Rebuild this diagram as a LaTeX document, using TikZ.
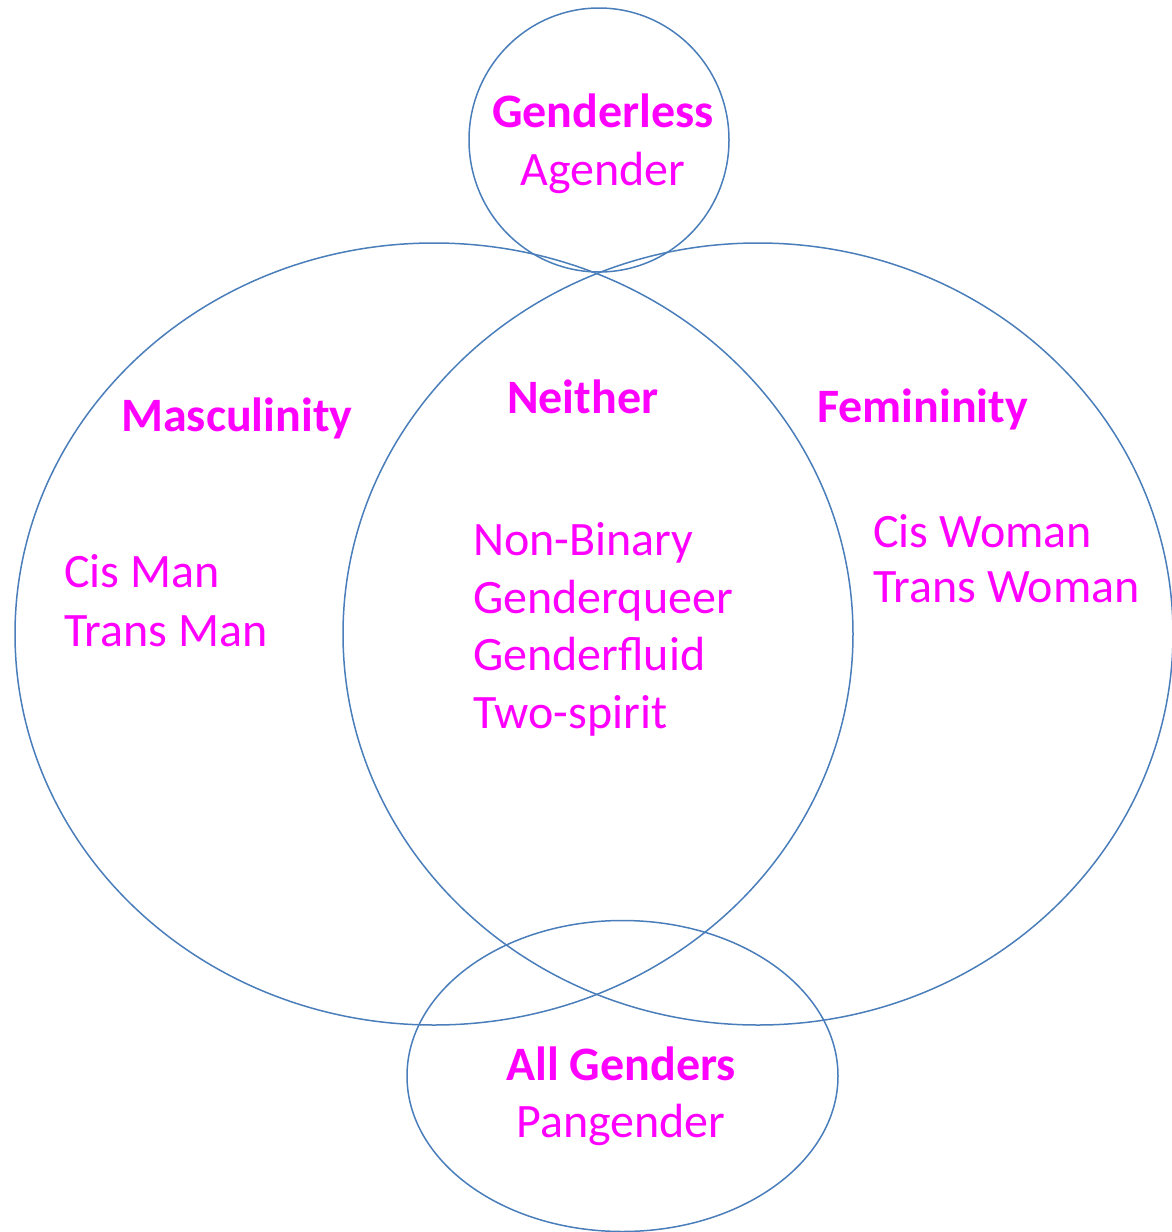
\documentclass[tikz,border=0pt]{standalone}
\usepackage{fontspec}
\setmainfont{Carlito}
\definecolor{ringblue}{HTML}{4A7EBB}
\definecolor{labelmag}{HTML}{FF00FF}
\begin{document}
\begin{tikzpicture}[x=1pt,y=-1pt,
  ring/.style={draw=ringblue,line width=1.5pt},
  lbl/.style={inner sep=0pt,text=labelmag,font=\fontsize{48}{57}\selectfont},
  head/.style={lbl,font=\fontsize{48}{57}\selectfont\bfseries},
  itemL/.style={lbl,anchor=base west},
  itemC/.style={lbl,anchor=base}]
\useasboundingbox (0,0) rectangle (1172,1232);
% ellipses
\draw[ring] (434,634) ellipse [x radius=419pt, y radius=391pt];
\draw[ring] (758,634) ellipse [x radius=415pt, y radius=391pt];
\draw[ring] (599,140) ellipse [x radius=130pt, y radius=132pt];
\draw[ring] (622.5,1076) ellipse [x radius=215.5pt, y radius=155.5pt];
% top
\node[head,anchor=base] (genderless) at (603,127) {Genderless};
\node[itemC] (agender) at (603,185) {Agender};
% left
\node[head,anchor=base west] (masc) at (121,431) {Masculinity};
\node[itemL] (cisman) at (64,587) {Cis Man};
\node[itemL] (transman) at (64,646) {Trans Man};
% middle
\node[head,anchor=base west] (neither) at (507,413) {Neither};
\node[itemL] (nonbinary) at (473,555) {Non-Binary};
\node[itemL] (gq) at (473,613) {Genderqueer};
\node[itemL] (gf) at (473,670) {Genderfluid};
\node[itemL] (twospirit) at (473,728) {Two-spirit};
% right
\node[head,anchor=base west] (fem) at (817,422) {Femininity};
\node[itemL] (ciswoman) at (873,547) {Cis Woman};
\node[itemL] (transwoman) at (873,602) {Trans Woman};
% bottom
\node[head,anchor=base] (allg) at (621,1080) {All Genders};
\node[itemC] (pang) at (621,1137) {Pangender};
\end{tikzpicture}
\end{document}
